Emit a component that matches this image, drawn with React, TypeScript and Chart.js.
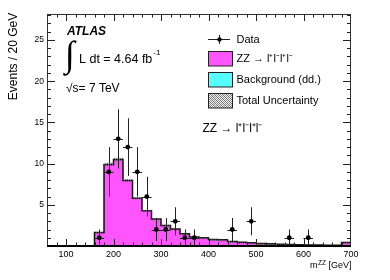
import React, { useEffect, useRef } from "react";
import { Chart, registerables } from "chart.js";
Chart.register(...registerables);

// ---- data ----
const binLowEdges = [160, 180, 200, 220, 240, 260, 280, 300, 320, 340, 360, 380, 400, 420, 440, 460, 480, 500, 520, 540, 560, 580, 600, 620, 640, 660, 680];
const binWidth = 20;
const zzPrediction = [1.65, 9.9, 10.5, 7.95, 5.8, 4.27, 3.27, 2.5, 2.05, 1.5, 1.1, 1.0, 0.8, 0.75, 0.55, 0.45, 0.4, 0.3, 0.28, 0.22, 0.18, 0.15, 0.13, 0.12, 0.1, 0.08, 0.42];
const totalUncertainty = [0.06, 0.2, 0.22, 0.17, 0.13, 0.1, 0.08, 0.07, 0.06, 0.05, 0.04, 0.04, 0.03, 0.03, 0.03, 0.02, 0.02, 0.02, 0.02, 0.02, 0.02, 0.02, 0.02, 0.02, 0.02, 0.02, 0.03];
const dataX = [170, 190, 210, 230, 250, 270, 290, 310, 330, 350, 370, 450, 490, 570, 610];
const dataY = [1, 9, 13, 12, 9, 6, 2, 2, 3, 1, 1, 2, 3, 1, 1];
const dataErr = [1, 3, 3.6, 3.5, 3, 2.4, 1.4, 1.4, 1.7, 1, 1, 1.4, 1.7, 1, 1];
const xTickValues = [100, 200, 300, 400, 500, 600, 700];
const yTickValues = [5, 10, 15, 20, 25];
const xMin = 60;
const xMax = 700;
const yMax = 28.15;

const FONT = "'Liberation Sans', Arial, Helvetica, sans-serif";
const PINK = "#ff55ff";
const CYAN = "#55ffff";

function makePattern(ctx: CanvasRenderingContext2D) {
  const c = document.createElement("canvas");
  c.width = 4;
  c.height = 4;
  const p = c.getContext("2d")!;
  p.fillStyle = "rgba(90,90,90,0.85)";
  p.fillRect(0, 0, 1, 1);
  p.fillRect(2, 2, 1, 1);
  p.fillRect(1, 1, 1, 1);
  p.fillRect(3, 3, 1, 1);
  p.fillStyle = "rgba(90,90,90,0.6)";
  p.fillRect(2, 0, 1, 1);
  p.fillRect(0, 2, 1, 1);
  p.fillRect(3, 1, 1, 1);
  p.fillRect(1, 3, 1, 1);
  return ctx.createPattern(c, "repeat")!;
}

const decorPlugin = {
  id: "decor",
  afterDatasetDraw(chart: any, args: any) {
    const ctx: CanvasRenderingContext2D = chart.ctx;
    const xs = chart.scales.x;
    const ys = chart.scales.y;
    if (args.index === 0) {
      ctx.save();
      ctx.fillStyle = makePattern(ctx);
      binLowEdges.forEach((lo, i) => {
        const x0 = xs.getPixelForValue(lo);
        const x1 = xs.getPixelForValue(lo + binWidth);
        const yTop = ys.getPixelForValue(zzPrediction[i] + totalUncertainty[i]);
        const yBot = ys.getPixelForValue(zzPrediction[i] - totalUncertainty[i]);
        ctx.fillRect(x0, yTop, x1 - x0, Math.max(yBot - yTop, 2));
      });
      ctx.restore();
    }
  },
  beforeDatasetDraw(chart: any, args: any) {
    if (args.index !== 1) return;
    const ctx: CanvasRenderingContext2D = chart.ctx;
    const xs = chart.scales.x;
    const ys = chart.scales.y;
    ctx.save();
    ctx.strokeStyle = "#222";
    ctx.lineWidth = 1;
    dataX.forEach((x, i) => {
      const px = Math.round(xs.getPixelForValue(x)) + 0.5;
      const py = Math.round(ys.getPixelForValue(dataY[i])) + 0.5;
      const yUp = ys.getPixelForValue(dataY[i] + dataErr[i]);
      const yDn = ys.getPixelForValue(Math.max(dataY[i] - dataErr[i], 0));
      ctx.beginPath();
      ctx.moveTo(px, yUp);
      ctx.lineTo(px, yDn);
      ctx.moveTo(xs.getPixelForValue(x - binWidth / 2), py);
      ctx.lineTo(xs.getPixelForValue(x + binWidth / 2), py);
      ctx.stroke();
    });
    ctx.restore();
  },
  afterDraw(chart: any) {
    const ctx: CanvasRenderingContext2D = chart.ctx;
    const xs = chart.scales.x;
    const ys = chart.scales.y;
    const { left, right, top, bottom } = chart.chartArea;
    ctx.save();
    ctx.strokeStyle = "#333";
    ctx.lineWidth = 1;
    ctx.strokeRect(left + 0.5, top + 0.5, right - left - 1, bottom - top);
    ctx.strokeStyle = "#000";
    ctx.lineWidth = 2;
    ctx.beginPath();
    ctx.moveTo(left, bottom);
    ctx.lineTo(right, bottom);
    ctx.stroke();
    ctx.lineWidth = 1;
    ctx.strokeStyle = "#222";
    ctx.beginPath();
    for (let v = 1; v < yMax; v++) {
      const y = Math.round(ys.getPixelForValue(v)) + 0.5;
      const len = v % 5 === 0 ? 8 : 4;
      ctx.moveTo(left, y);
      ctx.lineTo(left + len, y);
      ctx.moveTo(right, y);
      ctx.lineTo(right - len, y);
    }
    for (let v = 80; v < xMax; v += 20) {
      const x = Math.round(xs.getPixelForValue(v)) + 0.5;
      const len = v % 100 === 0 ? 7 : 3.5;
      ctx.moveTo(x, bottom);
      ctx.lineTo(x, bottom - len);
      ctx.moveTo(x, top);
      ctx.lineTo(x, top + len);
    }
    ctx.stroke();

    ctx.fillStyle = "#000";
    ctx.textBaseline = "middle";
    ctx.save();
    ctx.translate(14, 56.5);
    ctx.rotate(-Math.PI / 2);
    ctx.textAlign = "center";
    ctx.font = `12px ${FONT}`;
    ctx.fillText("Events / 20 GeV", 0, 0);
    ctx.restore();

    ctx.textAlign = "left";
    const p1 = "m";
    const p2 = "ZZ";
    const p3 = " [GeV]";
    ctx.font = `9px ${FONT}`;
    const w1 = ctx.measureText(p1).width;
    const w3 = ctx.measureText(p3).width;
    ctx.font = `6.5px ${FONT}`;
    const w2 = ctx.measureText(p2).width;
    const sx = right - (w1 + w2 + w3);
    ctx.font = `9px ${FONT}`;
    ctx.fillText(p1, sx, 266);
    ctx.font = `6.5px ${FONT}`;
    ctx.fillText(p2, sx + w1 + 0.5, 263);
    ctx.font = `9px ${FONT}`;
    ctx.fillText(p3, sx + w1 + w2 + 0.5, 266);

    ctx.font = `italic bold 12px ${FONT}`;
    ctx.fillText("ATLAS", 67, 32);
    ctx.font = `36px 'Liberation Serif', 'DejaVu Serif', serif`;
    ctx.fillText("∫", 65, 57);
    ctx.font = `12.5px ${FONT}`;
    ctx.fillText("L dt = 4.64 fb", 79, 60);
    const wl = ctx.measureText("L dt = 4.64 fb").width;
    ctx.font = `8px ${FONT}`;
    ctx.fillText("-1", 79 + wl + 1, 53);
    ctx.font = `12px ${FONT}`;
    ctx.fillText("√s= 7 TeV", 66, 88.5);

    const lx0 = 208;
    const lx1 = 232;
    ctx.font = `11px ${FONT}`;
    ctx.beginPath();
    ctx.moveTo(lx0, 39.5);
    ctx.lineTo(lx1 - 2, 39.5);
    ctx.moveTo(219.5, 35);
    ctx.lineTo(219.5, 44);
    ctx.stroke();
    ctx.beginPath();
    ctx.arc(219.5, 39.5, 2.2, 0, Math.PI * 2);
    ctx.fill();
    ctx.fillText("Data", 236.5, 39.5);
    const boxes = [
      { fill: PINK, text: "ZZ → l⁺l⁻l⁺l⁻", y0: 51.5, y1: 66 },
      { fill: CYAN, text: "Background (dd.)", y0: 72.5, y1: 87 },
      { fill: "pattern", text: "Total Uncertainty", y0: 93.5, y1: 108 },
    ];
    boxes.forEach((b) => {
      if (b.fill === "pattern") {
        ctx.fillStyle = "#eee";
        ctx.fillRect(lx0, b.y0, lx1 - lx0, b.y1 - b.y0);
        ctx.fillStyle = makePattern(ctx);
      } else {
        ctx.fillStyle = b.fill;
      }
      ctx.fillRect(lx0, b.y0, lx1 - lx0, b.y1 - b.y0);
      ctx.strokeStyle = "#222";
      ctx.lineWidth = 1;
      ctx.strokeRect(lx0 + 0.5, b.y0, lx1 - lx0, b.y1 - b.y0);
      ctx.fillStyle = "#000";
      ctx.fillText(b.text, 236.5, (b.y0 + b.y1) / 2);
    });
    ctx.font = `12px ${FONT}`;
    ctx.fillText("ZZ → l⁺l⁻l⁺l⁻", 202.5, 128.5);
    ctx.restore();
  },
};

export default function App() {
  const ref = useRef<HTMLCanvasElement>(null);
  useEffect(() => {
    document.body.style.margin = "0";
    const histPoints: { x: number; y: number }[] = [{ x: xMin, y: 0 }, { x: binLowEdges[0], y: 0 }];
    binLowEdges.forEach((lo, i) => histPoints.push({ x: lo, y: zzPrediction[i] }));
    const last = binLowEdges.length - 1;
    histPoints.push({ x: binLowEdges[last] + binWidth, y: zzPrediction[last] });
    histPoints.push({ x: binLowEdges[last] + binWidth, y: 0 });

    const chart = new Chart(ref.current!, {
      type: "scatter",
      data: {
        datasets: [
          {
            type: "line",
            label: "ZZ",
            data: histPoints,
            stepped: true,
            fill: "origin",
            backgroundColor: PINK,
            borderColor: "#111",
            borderWidth: 1.5,
            pointRadius: 0,
            order: 2,
          } as any,
          {
            type: "scatter",
            label: "Data",
            data: dataX.map((x, i) => ({ x, y: dataY[i] })),
            backgroundColor: "#000",
            borderColor: "#000",
            pointRadius: 2.4,
            borderWidth: 0,
            order: 1,
          },
        ],
      },
      options: {
        responsive: false,
        animation: false,
        devicePixelRatio: 1,
        layout: { padding: { top: 14, right: 39, left: 0, bottom: 0 } },
        plugins: { legend: { display: false }, tooltip: { enabled: false } },
        scales: {
          x: {
            type: "linear",
            min: xMin,
            max: xMax,
            grid: { display: false, drawTicks: false },
            border: { display: false },
            ticks: { font: { family: FONT, size: 9 }, color: "#000", padding: 3, maxRotation: 0 },
            afterBuildTicks: (s: any) => {
              s.ticks = xTickValues.map((v) => ({ value: v }));
            },
            afterFit: (s: any) => {
              s.height = 34;
            },
          },
          y: {
            type: "linear",
            min: 0,
            max: yMax,
            grid: { display: false, drawTicks: false },
            border: { display: false },
            ticks: { font: { family: FONT, size: 8.5 }, color: "#000", padding: 3 },
            afterBuildTicks: (s: any) => {
              s.ticks = yTickValues.map((v) => ({ value: v }));
            },
            afterFit: (s: any) => {
              s.width = 47;
            },
          },
        },
      },
      plugins: [decorPlugin],
    });
    return () => chart.destroy();
  }, []);
  return (
    <div style={{ position: "absolute", left: 0, top: 0, width: 390, height: 280, background: "#fff" }}>
      <canvas ref={ref} width={390} height={280} />
    </div>
  );
}
